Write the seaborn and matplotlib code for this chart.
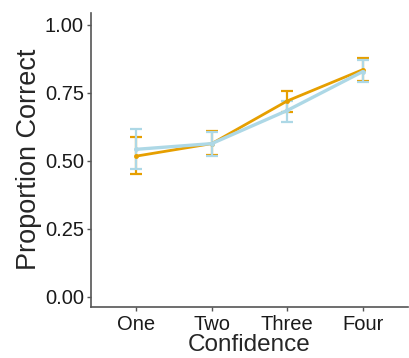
import matplotlib
matplotlib.use('Agg')
from matplotlib import pyplot as plt
import seaborn as sns
import pandas as pd

sns.set_style('white')
plt.rcParams['font.family'] = ['Liberation Sans', 'DejaVu Sans']

confidence = ['One', 'Two', 'Three', 'Four']
groups = ['A', 'B']
colors = {'A': '#E69F00', 'B': '#ADD8E6'}

mean_a = [0.517, 0.563, 0.720, 0.835]
low_a = [0.450, 0.520, 0.680, 0.792]
high_a = [0.588, 0.610, 0.757, 0.878]

mean_b = [0.542, 0.563, 0.685, 0.828]
low_b = [0.468, 0.518, 0.644, 0.789]
high_b = [0.618, 0.606, 0.718, 0.869]

df = pd.DataFrame({
    'Confidence': confidence * 2,
    'Proportion Correct': mean_a + mean_b,
    'low': low_a + low_b,
    'high': high_a + high_b,
    'group': ['A'] * 4 + ['B'] * 4,
})

fig = plt.figure(figsize=(4.09, 3.58), dpi=100)
ax = fig.add_axes([0.222, 0.143, 0.776, 0.822])

for g, lw in zip(groups, [2.0, 2.4]):
    sub = df[df['group'] == g]
    ax.errorbar(
        range(len(sub)), sub['Proportion Correct'],
        yerr=[sub['Proportion Correct'] - sub['low'], sub['high'] - sub['Proportion Correct']],
        fmt='none', ecolor=colors[g], elinewidth=1.6, capsize=4.5, capthick=1.6, zorder=2,
    )
    sns.lineplot(
        x=range(len(sub)), y=sub['Proportion Correct'].values,
        color=colors[g], linewidth=lw, marker='o', markersize=3.5,
        markeredgewidth=0, ax=ax, zorder=3,
    )

ax.set_xticks(range(len(confidence)))
ax.set_xticklabels(confidence)
ax.set_xlim(-0.6, 3.6)
ax.set_ylim(-0.037, 1.045)
ax.set_yticks([0, 0.25, 0.5, 0.75, 1.0])
ax.set_yticklabels(['0.00', '0.25', '0.50', '0.75', '1.00'])
ax.set_xlabel('Confidence', fontsize=17.5, labelpad=0)
ax.set_ylabel('Proportion Correct', fontsize=19.5, labelpad=2)
ax.tick_params(axis='both', labelsize=14.5, length=3, width=1, color='#555555',
               labelcolor='#1a1a1a', pad=2, bottom=True, left=True)
ax.tick_params(axis='x', pad=3)
for side in ['top', 'right']:
    ax.spines[side].set_visible(False)
for side in ['left', 'bottom']:
    ax.spines[side].set_color('#555555')
    ax.spines[side].set_linewidth(1.2)

fig.savefig('out.png', dpi=100)
